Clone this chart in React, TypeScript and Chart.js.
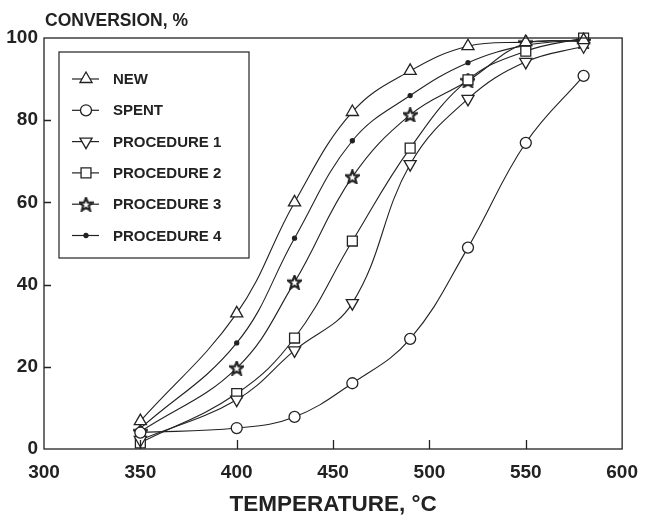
import React, { useEffect, useRef } from 'react';
import { Chart, registerables } from 'chart.js';
import { drawPoint } from 'chart.js/helpers';

Chart.register(...registerables);

// ---- data ----
const temperatures = [350, 400, 430, 460, 490, 520, 550, 580];
const newCatalyst = [6.8, 33, 60, 82, 92, 98, 99, 99.5];
const spentCatalyst = [4, 5.1, 7.8, 16, 26.8, 49, 74.5, 90.8];
const procedure1 = [2.2, 12, 24, 35.5, 69.3, 85.2, 94.2, 98];
const procedure2 = [1.5, 13.5, 27, 50.6, 73.2, 89.8, 96.8, 100];
const procedure3 = [4.2, 19.7, 40.6, 66.2, 81.3, 89.6, 98.8, 99.2];
const procedure4 = [5, 25.8, 51.3, 75, 86, 94, 98.2, 99.6];
const seriesLabels = ['NEW', 'SPENT', 'PROCEDURE 1', 'PROCEDURE 2', 'PROCEDURE 3', 'PROCEDURE 4'];
const xInnerTicks = [350, 400, 450, 500, 550];
const yInnerTicks = [20, 40, 60, 80];
const yTitle = 'CONVERSION, %';
const xTitle = 'TEMPERATURE, °C';

const INK = '#222222';
const FONT = '"Liberation Sans", Arial, Helvetica, sans-serif';

function makeStar(size: number): HTMLCanvasElement {
  const c = document.createElement('canvas');
  c.width = size;
  c.height = size;
  const ctx = c.getContext('2d')!;
  const cx = size / 2, cy = size / 2 + 0.5;
  const ro = size * 0.46, ri = size * 0.2;
  ctx.beginPath();
  for (let i = 0; i < 10; i++) {
    const a = -Math.PI / 2 + (i * Math.PI) / 5;
    const r = i % 2 === 0 ? ro : ri;
    const px = cx + r * Math.cos(a), py = cy + r * Math.sin(a);
    if (i === 0) ctx.moveTo(px, py); else ctx.lineTo(px, py);
  }
  ctx.closePath();
  ctx.fillStyle = '#ffffff';
  ctx.fill();
  ctx.strokeStyle = INK;
  ctx.lineWidth = 2.2;
  ctx.stroke();
  return c;
}

const framePlugin = {
  id: 'frameAndLegend',
  afterDraw(chart: any) {
    const { ctx, chartArea, scales } = chart;
    const { left, right, top, bottom } = chartArea;
    ctx.save();
    ctx.strokeStyle = INK;
    ctx.lineWidth = 1.3;
    ctx.strokeRect(left, top, right - left, bottom - top);
    ctx.beginPath();
    xInnerTicks.forEach((v) => {
      const px = Math.round(scales.x.getPixelForValue(v)) + 0.5;
      ctx.moveTo(px, bottom);
      ctx.lineTo(px, bottom - 9);
    });
    yInnerTicks.forEach((v) => {
      const py = Math.round(scales.y.getPixelForValue(v)) + 0.5;
      ctx.moveTo(left, py);
      ctx.lineTo(left + 7, py);
    });
    ctx.stroke();

    // y title
    ctx.fillStyle = INK;
    ctx.font = `bold 17.5px ${FONT}`;
    ctx.textAlign = 'left';
    ctx.textBaseline = 'middle';
    ctx.fillText(yTitle, left + 1, 21);

    // legend
    const bx = left + 15, by = top + 14, bw = 190, bh = 206;
    ctx.lineWidth = 1.2;
    ctx.strokeRect(bx, by, bw, bh);
    ctx.font = `bold 15px ${FONT}`;
    chart.data.datasets.forEach((ds: any, i: number) => {
      const ry = by + 27 + i * 31.3;
      ctx.beginPath();
      ctx.strokeStyle = INK;
      ctx.lineWidth = 1.2;
      ctx.moveTo(bx + 13, ry);
      ctx.lineTo(bx + 40, ry);
      ctx.stroke();
      ctx.fillStyle = ds.pointBackgroundColor;
      ctx.strokeStyle = INK;
      ctx.lineWidth = ds.pointBorderWidth;
      drawPoint(ctx, {
        pointStyle: ds.pointStyle,
        rotation: ds.pointRotation || 0,
        radius: ds.pointRadius,
        borderWidth: ds.pointBorderWidth,
      } as any, bx + 27, ry);
      ctx.fillStyle = INK;
      ctx.fillText(ds.label, bx + 54, ry + 1);
    });
    ctx.restore();
  },
};

export default function App() {
  const ref = useRef<HTMLCanvasElement | null>(null);
  useEffect(() => {
    const star = makeStar(15);
    const series = [newCatalyst, spentCatalyst, procedure1, procedure2, procedure3, procedure4];
    const styles: any[] = [
      { pointStyle: 'triangle', pointRadius: 7, pointRotation: 0, bg: '#ffffff' },
      { pointStyle: 'circle', pointRadius: 5.5, pointRotation: 0, bg: '#ffffff' },
      { pointStyle: 'triangle', pointRadius: 7, pointRotation: 180, bg: '#ffffff' },
      { pointStyle: 'rect', pointRadius: 7, pointRotation: 0, bg: '#ffffff' },
      { pointStyle: star, pointRadius: 7, pointRotation: 0, bg: '#ffffff' },
      { pointStyle: 'circle', pointRadius: 2, pointRotation: 0, bg: INK },
    ];
    const datasets = series.map((vals, i) => ({
      label: seriesLabels[i],
      data: temperatures.map((t, j) => ({ x: t, y: vals[j] })),
      borderColor: INK,
      borderWidth: 1.1,
      pointStyle: styles[i].pointStyle,
      pointRadius: styles[i].pointRadius,
      pointRotation: styles[i].pointRotation,
      pointBackgroundColor: styles[i].bg,
      pointBorderColor: INK,
      pointBorderWidth: 1.3,
      tension: 0.4,
      fill: false,
      clip: false as any,
    }));
    const chart = new Chart(ref.current!, {
      type: 'line',
      data: { datasets },
      options: {
        responsive: false,
        animation: false,
        layout: { padding: { top: 38, right: 17, left: 0, bottom: 0 } },
        plugins: { legend: { display: false }, tooltip: { enabled: false }, title: { display: false } },
        scales: {
          x: {
            type: 'linear',
            min: 300,
            max: 600,
            afterFit: (s: any) => { s.height = 69; },
            grid: { display: false, drawTicks: false },
            border: { display: false },
            ticks: { stepSize: 50, color: INK, font: { family: FONT, size: 19, weight: 'bold' }, padding: 12, maxRotation: 0 },
            title: { display: true, text: xTitle, color: INK, font: { family: FONT, size: 22.5, weight: 'bold' }, padding: { top: 0, bottom: 0 } },
          },
          y: {
            min: 0,
            max: 100,
            afterFit: (s: any) => { s.width = 44; },
            grid: { display: false, drawTicks: false },
            border: { display: false },
            ticks: { stepSize: 20, color: INK, font: { family: FONT, size: 19, weight: 'bold' }, padding: 6 },
          },
        },
      },
      plugins: [framePlugin],
    });
    return () => chart.destroy();
  }, []);
  return (
    <div style={{ position: 'absolute', left: 0, top: 0, width: 650, height: 518, background: '#fff' }}>
      <canvas ref={ref} width={650} height={518} />
    </div>
  );
}
